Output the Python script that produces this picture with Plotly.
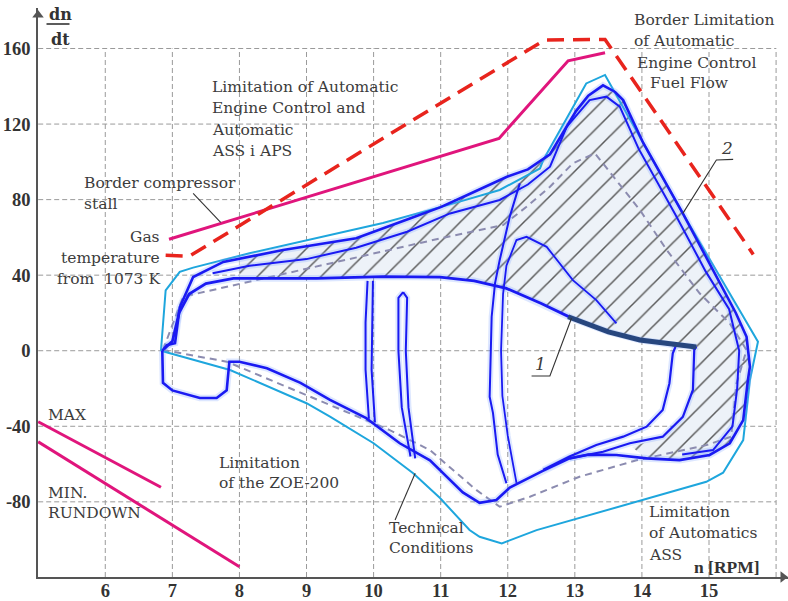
import plotly.graph_objects as go

# ---------------- data ----------------
X_TICKS = [6, 7, 8, 9, 10, 11, 12, 13, 14, 15]
Y_TICKS = [-80, -40, 0, 40, 80, 120, 160]
X_GRID = [6, 7, 8, 9, 10, 11, 12, 13, 14, 15, 16]
Y_GRID = [-80, -40, 0, 40, 80, 120, 160]

# Border compressor stall (magenta)
STALL = [(6.95, 59.0), (11.87, 112.4), (12.90, 153.5), (13.45, 157.8)]
# Border limitation of automatic engine control fuel flow (red dashed)
FUEL = [(6.90, 50.5), (7.25, 50.0), (12.55, 164.5), (13.45, 164.8), (15.66, 51.0)]
# Rundown lines
MAX_LINE = [(5.0, -37.6), (6.83, -72.3)]
MIN_LINE = [(5.0, -48.2), (8.0, -114.4)]

# Outer envelope (cyan)
ENVELOPE = [(6.83, 0), (6.90, 32), (7.11, 41.8), (7.31, 44.0), (8.15, 51.6), (10.14, 67.6),
            (11.14, 77.5), (11.88, 85.1), (12.48, 96.5), (12.53, 101), (13.17, 141.5),
            (13.45, 146), (14.61, 72.7), (15.36, 27.7), (15.73, 4.8), (15.61, -15.5),
            (15.51, -47.3), (15.21, -64.6), (14.96, -69.4), (12.43, -95), (11.91, -102),
            (11.58, -98.5), (11.43, -94.9), (10.99, -78), (10.59, -64.9), (10.0, -49),
            (9.35, -34.9), (9.0, -27.8), (7.86, -10.2), (6.83, 0)]

# Technical conditions (grey dashed)
TECH = [(6.86, 0.4), (7.16, 28.6), (11.0, 59.5), (11.93, 66.5), (12.28, 76.2), (12.63, 86.8),
        (12.97, 99.2), (13.3, 104.5), (13.97, 74.5), (14.37, 53.3), (14.86, 30.4),
        (15.31, 14.5), (15.56, 0.4), (15.41, -17.3), (15.33, -45.5), (14.96, -50.0),
        (13.92, -58.0), (13.07, -66.7), (12.33, -77.3), (11.88, -82.6), (11.53, -73.7),
        (10.84, -52.6), (10.24, -42.0), (7.81, -5.8), (6.86, 0.4)]

# Measured trajectories (blue)
OUTER = [(6.85, 0), (6.92, 3), (7.04, 4), (7.11, 23), (7.31, 39), (7.76, 47), (8.65, 53.3),
         (9.74, 59.5), (10.54, 70), (11.0, 76), (11.43, 83), (11.98, 92), (12.3, 96),
         (12.63, 104), (13.02, 127), (13.2, 135), (13.42, 140.5), (13.6, 137), (13.72, 132.7),
         (14.02, 110), (14.61, 72.7), (15.11, 39.2), (15.4, 20), (15.56, 7.4), (15.61, -8.5),
         (15.58, -15.5), (15.51, -36.7), (15.31, -49), (15.01, -55.2), (14.56, -57.9),
         (14.07, -57), (13.62, -55.2), (13.2, -55), (12.92, -57), (12.53, -63.5),
         (12.03, -72.5), (11.83, -79), (11.58, -80.5), (11.33, -75), (10.84, -58),
         (10.39, -49), (9.89, -35.7), (9.35, -26), (8.91, -17), (8.41, -9.3), (8.0, -5.8),
         (7.85, -5.8), (7.81, -21), (7.66, -25), (7.41, -25), (7.0, -21), (6.86, -17), (6.85, 0)]
INNER_TOP = [(7.6, 41), (8.15, 45), (9.0, 48.5), (9.74, 54.5), (10.5, 63), (11.14, 72.7),
             (11.88, 79.8), (12.3, 88), (12.63, 97.4), (12.88, 118.6), (13.22, 132.7),
             (13.47, 134.5), (13.67, 129.2), (13.95, 107), (14.5, 72), (14.95, 42),
             (15.3, 22), (15.45, 0), (15.42, -20), (15.35, -40), (15.06, -52.6), (14.6, -55)]
LINE_1 = [(6.88, 1), (7.0, 5), (7.1, 20), (7.25, 30), (7.5, 35.5), (7.91, 38.3), (9.15, 38.3),
          (10.14, 39.2), (10.99, 39), (11.5, 37), (11.98, 33), (12.5, 25), (12.97, 17),
          (13.5, 10), (13.97, 5.7), (14.5, 3), (14.81, 2)]
LINE_1_DENSE = [(12.9, 18), (13.5, 10), (13.97, 5.7), (14.5, 3), (14.81, 2)]
RETURN_A = [(12.92, -57), (13.42, -53.5), (13.82, -49), (14.31, -45.5), (14.61, -35),
            (14.76, -20.8), (14.78, 0.4), (14.81, 2)]
RETURN_B = [(12.53, -63), (12.92, -56), (13.32, -49.9), (13.72, -45.5), (14.07, -40.2),
            (14.31, -31.4), (14.41, -17.3), (14.46, -1.4), (14.5, 2)]
V1_A = [(9.93, -36), (9.88, -10), (9.88, 15), (9.91, 37)]
V1_B = [(9.99, 37), (9.98, 15), (9.97, -10), (10.02, -38)]
V2_A = [(10.55, -56), (10.42, -30), (10.37, 0), (10.37, 28), (10.44, 31)]
V2_B = [(10.44, 31), (10.5, 28), (10.48, 0), (10.52, -30), (10.62, -57)]
V3_A = [(12.18, 88.6), (12.03, 71), (11.88, 48), (11.81, 35.7), (11.76, 18), (11.73, -24.4),
        (11.78, -33), (11.85, -55), (11.98, -70.2)]
V3_B = [(13.62, 14.5), (13.32, 26.8), (12.97, 37.4), (12.58, 55), (12.28, 60.3),
        (12.13, 58.6), (11.98, 45), (11.93, 30), (11.9, 0), (11.92, -24), (12.0, -45),
        (12.13, -70)]

# Hatched region
HATCH = [(8.0, 48.7), (8.65, 53.3), (9.74, 59.5), (10.54, 70), (11.0, 76), (11.43, 83),
         (11.98, 92), (12.3, 96), (12.63, 104), (13.02, 127), (13.2, 135), (13.42, 140.5),
         (13.72, 132.7), (14.02, 110), (14.61, 72.7), (15.11, 39.2), (15.56, 7.4),
         (15.61, -8.5), (15.56, -29.6), (15.36, -47.3), (15.01, -55.2), (14.56, -57.9),
         (14.07, -57), (13.85, -51), (14.31, -45.5), (14.61, -35), (14.76, -20.8),
         (14.78, 0.4), (14.5, 3), (13.97, 5.7), (13.5, 10), (12.97, 17), (12.5, 25),
         (11.98, 33), (11.5, 37), (10.99, 39), (10.14, 39.2), (9.15, 38.3), (8.0, 38.3)]

# Leader lines of the labels
LEAD_STALL = [(7.31, 83.3), (7.72, 68.0)]
LEAD_2 = [(15.36, 101.3), (15.11, 101.0), (14.61, 72.7)]
LEAD_1 = [(12.355, -13.4), (12.628, -13.4), (12.95, 17.2)]
LEAD_TECH = [(10.62, -64.9), (10.32, -89.6)]

# ---------------- geometry of the frame ----------------
L_PX, T_PX, B_PX = 38, 8, 24
PX_X = 67.08
PX_Y = 1.8888
X_MIN = 5 - 0.2 / PX_X
X_MAX = X_MIN + 750 / PX_X
Y_MIN = -119.8
Y_MAX = Y_MIN + (601 - T_PX - B_PX) / PX_Y


def px_x(p):
    return X_MIN + (p - L_PX) / PX_X


def px_y(p):
    return Y_MAX - (p - T_PX) / PX_Y


def xs(pts):
    return [p[0] for p in pts]


def ys(pts):
    return [p[1] for p in pts]


fig = go.Figure()

# hatched region
fig.add_trace(go.Scatter(
    x=xs(HATCH), y=ys(HATCH), mode="lines", fill="toself",
    line=dict(width=0, color="rgba(0,0,0,0)"),
    fillpattern=dict(shape="/", size=15, solidity=0.1, fgcolor="#5a5a5a",
                     bgcolor="#edf2f8", fillmode="replace"),
    hoverinfo="skip"))

# technical conditions
fig.add_trace(go.Scatter(x=xs(TECH), y=ys(TECH), mode="lines",
                         line=dict(color="#8c8cb0", width=2, dash="7px,5px")))

# envelope
fig.add_trace(go.Scatter(x=xs(ENVELOPE), y=ys(ENVELOPE), mode="lines",
                         line=dict(color="#1ea6dd", width=2)))

BLUE_PATHS = [(OUTER, 2.6), (INNER_TOP, 2.0), (LINE_1, 2.8), (RETURN_A, 2.2), (RETURN_B, 2.2),
              (V1_A, 2.0), (V1_B, 2.0), (V2_A, 2.0), (V2_B, 2.0), (V3_A, 2.0), (V3_B, 1.8)]
for pts, w in BLUE_PATHS:
    fig.add_trace(go.Scatter(x=xs(pts), y=ys(pts), mode="lines",
                             line=dict(color="rgba(120,160,255,0.25)", width=w + 4)))
for pts, w in BLUE_PATHS:
    fig.add_trace(go.Scatter(x=xs(pts), y=ys(pts), mode="lines",
                             line=dict(color="#1a1af2", width=w)))
fig.add_trace(go.Scatter(x=xs(LINE_1_DENSE), y=ys(LINE_1_DENSE), mode="lines",
                         line=dict(color="#27467e", width=5)))

# limits
fig.add_trace(go.Scatter(x=xs(STALL), y=ys(STALL), mode="lines",
                         line=dict(color="#e0157c", width=3)))
fig.add_trace(go.Scatter(x=xs(FUEL), y=ys(FUEL), mode="lines",
                         line=dict(color="#e8241d", width=3.5, dash="17px,9px")))
fig.add_trace(go.Scatter(x=xs(MAX_LINE), y=ys(MAX_LINE), mode="lines",
                         line=dict(color="#e0157c", width=3)))
fig.add_trace(go.Scatter(x=xs(MIN_LINE), y=ys(MIN_LINE), mode="lines",
                         line=dict(color="#e0157c", width=3)))

# leaders
for pts in (LEAD_STALL, LEAD_2, LEAD_1, LEAD_TECH):
    fig.add_trace(go.Scatter(x=xs(pts), y=ys(pts), mode="lines",
                             line=dict(color="#333333", width=1.1)))

# dn/dt fraction bar
fig.add_trace(go.Scatter(x=[px_x(46.5), px_x(69.5)], y=[px_y(24), px_y(24)], mode="lines",
                         line=dict(color="#333333", width=1.6), cliponaxis=False))

# axis arrow heads
fig.add_trace(go.Scatter(x=[X_MAX - 5 / PX_X], y=[Y_MIN], mode="markers", cliponaxis=False,
                         marker=dict(symbol="triangle-right", size=10, color="#555555")))
fig.add_trace(go.Scatter(x=[X_MIN], y=[Y_MAX - 7 / PX_Y], mode="markers", cliponaxis=False,
                         marker=dict(symbol="triangle-up", size=10, color="#555555")))

# grid
shapes = []
for gx in X_GRID:
    shapes.append(dict(type="line", xref="x", yref="y", x0=gx, x1=gx, y0=Y_MIN, y1=160,
                       line=dict(color="#9a9a9a", width=1, dash="5px,3px"), layer="below"))
for gy in Y_GRID:
    shapes.append(dict(type="line", xref="x", yref="y", x0=5, x1=16, y0=gy, y1=gy,
                       line=dict(color="#9a9a9a", width=1, dash="5px,3px"), layer="below"))

TXT = dict(family="DejaVu Serif", size=15.5, color="#3c3c3c")
BOLD = dict(family="DejaVu Serif", size=16, color="#333333", weight="bold")
TICK = dict(family="Liberation Serif", size=18.5, color="#333333", weight="bold")
UNIT = dict(family="Liberation Serif", size=17.5, color="#333333", weight="bold")

labels = [
    ("Limitation of Automatic", 210, 86.7, "left", TXT),
    ("Engine Control and", 210, 107.8, "left", TXT),
    ("Automatic", 210, 129.5, "left", TXT),
    ("ASS i APS", 210, 150.5, "left", TXT),
    ("Border compressor", 81.5, 182.7, "left", TXT),
    ("stall", 81.5, 203.5, "left", TXT),
    ("Gas", 162, 237, "right", TXT),
    ("temperature", 162, 257.5, "right", TXT),
    ("from  1073 K", 162, 278.5, "right", TXT),
    ("Border Limitation", 632, 19.5, "left", TXT),
    ("of Automatic", 632, 40.7, "left", TXT),
    ("Engine Control", 635, 62.7, "left", TXT),
    ("Fuel Flow", 648, 83.3, "left", TXT),
    ("MAX", 45.5, 415, "left", TXT),
    ("MIN.", 46, 492.7, "left", TXT),
    ("RUNDOWN", 46, 512.7, "left", TXT),
    ("Limitation", 216.5, 462.7, "left", TXT),
    ("of the ZOE-200", 216.5, 482.7, "left", TXT),
    ("Technical", 386.5, 527.7, "left", TXT),
    ("Conditions", 386.5, 548.3, "left", TXT),
    ("Limitation", 646.5, 512.3, "left", TXT),
    ("of Automatics", 646.5, 533.3, "left", TXT),
    ("ASS", 646.5, 555, "left", TXT),
    ("n [RPM]", 692, 566.5, "left", UNIT),
    ("x 10<sup>3</sup>", 735, 588, "left", UNIT),
    ("dn", 46.5, 14.5, "left", BOLD),
    ("dt", 49, 39.5, "left", BOLD),
]
annotations = []
for text, px, py, anchor, font in labels:
    annotations.append(dict(text=text, x=px_x(px), y=px_y(py), xref="x", yref="y",
                            xanchor=anchor, yanchor="middle", showarrow=False, font=font))
ITAL = dict(family="DejaVu Serif", size=17, color="#3c3c3c", style="italic")
annotations.append(dict(text="1", x=px_x(540), y=px_y(364), xref="x", yref="y",
                        showarrow=False, font=ITAL))
annotations.append(dict(text="2", x=px_x(727), y=px_y(148), xref="x", yref="y",
                        showarrow=False, font=ITAL))

fig.update_layout(
    width=788, height=601, autosize=False,
    margin=dict(l=L_PX, r=0, t=T_PX, b=B_PX),
    paper_bgcolor="white", plot_bgcolor="white", showlegend=False,
    shapes=shapes, annotations=annotations,
    xaxis=dict(range=[X_MIN, X_MAX], showgrid=False, zeroline=False, showline=True,
               linecolor="#555555", linewidth=1.5, tickvals=X_TICKS, automargin=False,
               ticktext=[str(v) for v in X_TICKS], ticks="", tickfont=TICK,
               ticklabelstandoff=-4),
    yaxis=dict(range=[Y_MIN, Y_MAX], showgrid=False, zeroline=False, showline=True,
               linecolor="#555555", linewidth=1.5, tickvals=Y_TICKS, automargin=False,
               ticktext=[str(v) for v in Y_TICKS], ticks="", tickfont=TICK,
               ticklabelstandoff=2),
)

fig.write_html("out.html", config={"displayModeBar": False},
               post_script="document.body.style.margin='0';")
